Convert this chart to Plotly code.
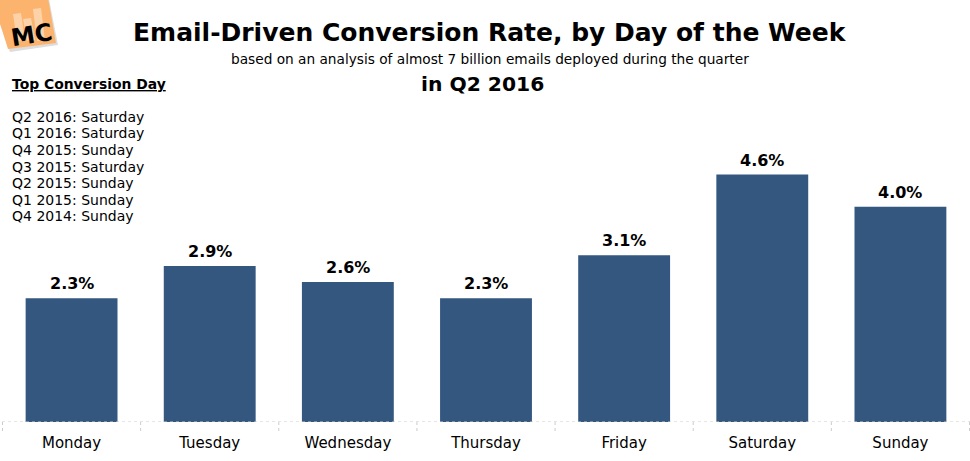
import plotly.graph_objects as go

days = ["Monday", "Tuesday", "Wednesday", "Thursday", "Friday", "Saturday", "Sunday"]
rates = [2.3, 2.9, 2.6, 2.3, 3.1, 4.6, 4.0]
history = [
    "Q2 2016: Saturday",
    "Q1 2016: Saturday",
    "Q4 2015: Sunday",
    "Q3 2015: Saturday",
    "Q2 2015: Sunday",
    "Q1 2015: Sunday",
    "Q4 2014: Sunday",
]

FONT = "DejaVu Sans"
L, T, B, W, H = 2, 153, 39, 970, 461
PW, PH = W - L, H - T - B


def px(x, y):
    return (x - L) / PW, (H - B - y) / PH


def poly(pts):
    return "M " + " L ".join(f"{px(x, y)[0]:.5f} {px(x, y)[1]:.5f}" for x, y in pts) + " Z"


fig = go.Figure()
fig.add_trace(go.Bar(
    x=days, y=rates,
    marker=dict(color="#33577f", line=dict(width=0)),
    width=0.665,
    hoverinfo="skip",
))

shapes = []
shapes.append(dict(type="line", xref="paper", yref="y", x0=0, x1=1, y0=0, y1=0,
                   line=dict(color="#cccccc", width=1, dash="dot")))
for i in range(len(days) + 1):
    shapes.append(dict(type="line", xref="x", yref="paper", x0=i - 0.5, x1=i - 0.5,
                       y0=0, y1=-0.04, line=dict(color="#cccccc", width=1, dash="dot")))

# logo
shapes.append(dict(type="path", xref="paper", yref="paper", layer="above",
                   path=poly([(-8, 2), (48, -6), (58, 45), (10, 52)]),
                   fillcolor="#dddddd", line=dict(width=0)))
shapes.append(dict(type="path", xref="paper", yref="paper", layer="above",
                   path=poly([(-8, -2), (47, -8), (56, 43), (8, 49)]),
                   fillcolor="#fbb36e", line=dict(width=0)))
for (bx0, top, bx1) in [(13, 13, 21), (23, 18, 31), (33, 8, 41)]:
    shapes.append(dict(type="path", xref="paper", yref="paper", layer="above",
                       path=poly([(bx0, top + 1), (bx1, top), (bx1 + 4, 40), (bx0 + 4, 41)]),
                       fillcolor="#fcd3a8", line=dict(width=0)))

annotations = []
for d, v in zip(days, rates):
    annotations.append(dict(x=d, y=v, xref="x", yref="y", text=f"<b>{v:.1f}%</b>",
                            showarrow=False, yanchor="bottom", yshift=3,
                            font=dict(family=FONT, size=16, color="black")))

texts = [
    dict(text="<b>Email-Driven Conversion Rate, by Day of the Week</b>", x=490, y=32,
         font=dict(family=FONT, size=25, color="black")),
    dict(text="based on an analysis of almost 7 billion emails deployed during the quarter",
         x=490, y=59, font=dict(family=FONT, size=13.7, color="black")),
    dict(text="<b>in Q2 2016</b>", x=482, y=84, font=dict(family=FONT, size=20.3, color="black")),
    dict(text="<b><u>Top Conversion Day</u></b>", x=10, y=84, xanchor="left",
         font=dict(family=FONT, size=13.9, color="black")),
    dict(text="<b>MC</b>", x=32, y=35, textangle=-9,
         font=dict(family=FONT, size=24, color="black")),
]
for i, h in enumerate(history):
    texts.append(dict(text=h, x=10, y=117 + i * 16.5, xanchor="left",
                      font=dict(family=FONT, size=14, color="black")))

for a in texts:
    d = dict(xref="paper", yref="paper", showarrow=False, yanchor="middle", xanchor="center")
    d.update(a)
    d["x"], d["y"] = px(a["x"], a["y"])
    annotations.append(d)

fig.update_layout(
    width=W, height=H,
    margin=dict(l=L, r=0, t=T, b=B, autoexpand=False),
    paper_bgcolor="white", plot_bgcolor="white",
    showlegend=False,
    hovermode=False,
    xaxis=dict(showgrid=False, showline=False, ticks="outside", ticklen=7,
               tickcolor="rgba(0,0,0,0)", zeroline=False, fixedrange=True,
               tickfont=dict(family=FONT, size=15, color="black")),
    yaxis=dict(range=[0, 5.0], visible=False, showgrid=False, zeroline=False, fixedrange=True),
    annotations=annotations,
    shapes=shapes,
)

fig.write_html("out.html", config={"displayModeBar": False},
               post_script="document.body.style.margin='0';document.body.style.overflow='hidden';")
